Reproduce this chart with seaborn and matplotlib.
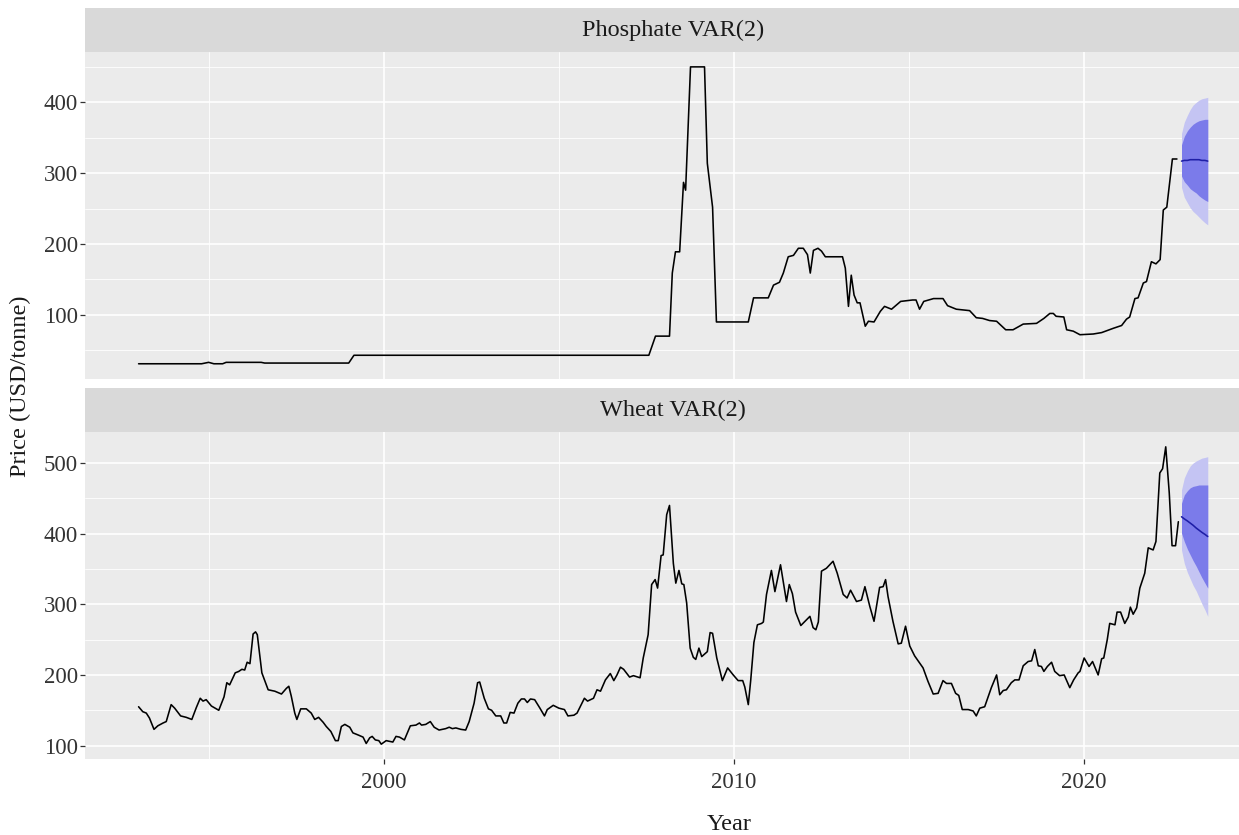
import numpy as np
import pandas as pd
import matplotlib
matplotlib.use("Agg")
import matplotlib.pyplot as plt
import seaborn as sns

# --- Werte (Jahr als Dezimalzahl, USD/tonne) ---

phos_year = [1993.0, 1994.8, 1995.0, 1995.15, 1995.4, 1995.5, 1996.5, 1996.6, 1999.0, 1999.15,
             2007.57, 2007.76, 2008.16, 2008.24, 2008.33, 2008.45, 2008.56, 2008.62, 2008.76, 2009.16,
             2009.24, 2009.39, 2009.5, 2010.41, 2010.56, 2010.98, 2011.13, 2011.3, 2011.41, 2011.55,
             2011.7, 2011.84, 2011.98, 2012.1, 2012.18, 2012.27, 2012.4, 2012.5, 2012.61, 2013.1,
             2013.18, 2013.27, 2013.35, 2013.43, 2013.52, 2013.6, 2013.75, 2013.84, 2014.0, 2014.18,
             2014.3, 2014.5, 2014.76, 2015.1, 2015.2, 2015.3, 2015.42, 2015.7, 2015.97, 2016.1,
             2016.35, 2016.73, 2016.92, 2017.1, 2017.3, 2017.5, 2017.76, 2017.97, 2018.26, 2018.64,
             2018.85, 2019.02, 2019.12, 2019.2, 2019.42, 2019.5, 2019.69, 2019.88, 2020.26, 2020.5,
             2020.83, 2021.07, 2021.21, 2021.3, 2021.45, 2021.54, 2021.69, 2021.78, 2021.92, 2022.05,
             2022.17, 2022.26, 2022.36, 2022.52, 2022.65]
phos_price = [31, 31, 33, 31, 31, 33, 33, 32, 32, 43,
              43, 70, 70, 159, 189, 189, 287, 276, 450, 450,
              314, 252, 90, 90, 124, 124, 142, 146, 159, 182,
              184, 194, 194, 185, 159, 191, 194, 190, 182, 182,
              166, 112, 156, 128, 117, 117, 84, 91, 90, 105,
              112, 108, 119, 121, 121, 108, 119, 123, 123, 113,
              108, 106, 96, 95, 92, 91, 79, 79, 87, 88,
              95, 102, 102, 98, 97, 79, 77, 72, 73, 75,
              81, 85, 94, 97, 123, 124, 145, 147, 175, 172,
              178, 248, 252, 320, 320]

wheat_year = [1993.0, 1993.12, 1993.22, 1993.31, 1993.44, 1993.55, 1993.7, 1993.79, 1993.93, 1994.03,
              1994.2, 1994.36, 1994.52, 1994.65, 1994.76, 1994.84, 1994.93, 1995.08, 1995.29, 1995.44,
              1995.52, 1995.6, 1995.76, 1995.86, 1995.95, 1996.03, 1996.1, 1996.18, 1996.27, 1996.34,
              1996.39, 1996.52, 1996.7, 1996.89, 1997.08, 1997.22, 1997.29, 1997.36, 1997.46, 1997.52,
              1997.63, 1997.79, 1997.93, 1998.03, 1998.14, 1998.27, 1998.36, 1998.49, 1998.62, 1998.7,
              1998.79, 1998.89, 1999.03, 1999.12, 1999.27, 1999.41, 1999.5, 1999.6, 1999.67, 1999.76,
              1999.86, 1999.93, 2000.07, 2000.17, 2000.26, 2000.35, 2000.45, 2000.59, 2000.76, 2000.92,
              2001.02, 2001.08, 2001.2, 2001.33, 2001.44, 2001.58, 2001.77, 2001.87, 2001.96, 2002.06,
              2002.2, 2002.34, 2002.44, 2002.58, 2002.68, 2002.74, 2002.87, 2002.99, 2003.08, 2003.2,
              2003.34, 2003.43, 2003.51, 2003.61, 2003.72, 2003.83, 2003.93, 2004.02, 2004.1, 2004.19,
              2004.31, 2004.46, 2004.59, 2004.67, 2004.84, 2005.0, 2005.16, 2005.26, 2005.43, 2005.52,
              2005.73, 2005.82, 2005.99, 2006.09, 2006.19, 2006.33, 2006.47, 2006.57, 2006.66, 2006.76,
              2006.85, 2007.02, 2007.13, 2007.32, 2007.41, 2007.55, 2007.65, 2007.75, 2007.82, 2007.92,
              2007.98, 2008.08, 2008.16, 2008.22, 2008.27, 2008.34, 2008.43, 2008.51, 2008.57, 2008.65,
              2008.75, 2008.84, 2008.91, 2009.0, 2009.08, 2009.24, 2009.32, 2009.39, 2009.51, 2009.67,
              2009.82, 2009.98, 2010.12, 2010.25, 2010.31, 2010.41, 2010.48, 2010.57, 2010.67, 2010.79,
              2010.84, 2010.93, 2011.07, 2011.17, 2011.33, 2011.5, 2011.58, 2011.67, 2011.76, 2011.91,
              2012.17, 2012.26, 2012.34, 2012.41, 2012.5, 2012.64, 2012.83, 2012.95, 2013.12, 2013.23,
              2013.33, 2013.5, 2013.64, 2013.74, 2013.88, 2014.0, 2014.16, 2014.26, 2014.33, 2014.4,
              2014.54, 2014.69, 2014.78, 2014.9, 2015.02, 2015.16, 2015.4, 2015.54, 2015.69, 2015.83,
              2015.97, 2016.07, 2016.21, 2016.33, 2016.42, 2016.52, 2016.69, 2016.83, 2016.92, 2017.02,
              2017.16, 2017.35, 2017.5, 2017.59, 2017.69, 2017.78, 2017.92, 2018.02, 2018.14, 2018.26,
              2018.4, 2018.5, 2018.59, 2018.69, 2018.78, 2018.85, 2018.95, 2019.07, 2019.16, 2019.3,
              2019.43, 2019.59, 2019.7, 2019.83, 2019.88, 2020.0, 2020.14, 2020.24, 2020.4, 2020.5,
              2020.56, 2020.66, 2020.73, 2020.88, 2020.94, 2021.04, 2021.16, 2021.26, 2021.32, 2021.4,
              2021.5, 2021.59, 2021.73, 2021.83, 2021.97, 2022.05, 2022.16, 2022.24, 2022.33, 2022.43,
              2022.51, 2022.61, 2022.69]
wheat_price = [155, 148, 146, 139, 123, 128, 132, 134, 158, 153,
               142, 140, 137, 154, 167, 163, 165, 156, 150, 169,
               189, 186, 203, 205, 208, 207, 218, 216, 258, 261,
               257, 203, 179, 177, 173, 181, 184, 170, 146, 137,
               152, 152, 146, 137, 140, 133, 127, 120, 107, 107,
               127, 130, 126, 118, 115, 112, 103, 111, 113, 108,
               107, 102, 107, 106, 105, 113, 112, 108, 128, 129,
               132, 129, 130, 134, 126, 122, 124, 126, 124, 125,
               123, 122, 134, 160, 189, 190, 167, 152, 150, 142,
               142, 132, 132, 147, 146, 160, 166, 166, 161, 166,
               165, 153, 142, 151, 157, 153, 151, 142, 143, 146,
               167, 163, 167, 179, 177, 193, 202, 192, 200, 211,
               208, 197, 199, 196, 224, 257, 328, 335, 323, 369,
               370, 427, 440, 396, 358, 330, 348, 329, 328, 302,
               238, 225, 222, 238, 226, 233, 260, 259, 224, 192,
               210, 200, 192, 192, 183, 158, 193, 246, 271, 273,
               275, 314, 348, 318, 356, 304, 328, 315, 289, 270,
               283, 267, 264, 275, 347, 351, 361, 344, 314, 309,
               320, 304, 306, 325, 297, 276, 324, 325, 335, 311,
               276, 244, 245, 269, 241, 227, 210, 191, 173, 174,
               192, 188, 188, 174, 171, 151, 151, 149, 142, 153,
               155, 182, 200, 172, 178, 179, 189, 193, 193, 213,
               219, 220, 236, 213, 212, 205, 212, 218, 205, 199,
               200, 182, 193, 203, 205, 224, 212, 219, 200, 223,
               224, 250, 273, 271, 289, 289, 273, 282, 296, 286,
               295, 323, 344, 380, 377, 389, 486, 492, 523, 458,
               383, 383, 417]

# VAR(2)-Prognose, monatlich
fc_year = [2022.78, 2022.86, 2022.95, 2023.03, 2023.11, 2023.2, 2023.28, 2023.36, 2023.45, 2023.53]

phos_mean = [317, 318, 318, 319, 319, 319, 319, 318, 318, 317]
phos_lo80 = [296, 288, 283, 278, 275, 272, 268, 265, 262, 260]
phos_hi80 = [340, 352, 360, 365, 369, 372, 374, 375, 376, 376]
phos_lo95 = [280, 266, 258, 251, 246, 242, 238, 234, 230, 227]
phos_hi95 = [356, 372, 382, 390, 396, 400, 403, 405, 406, 407]

wheat_mean = [424, 421, 418, 415, 412, 408, 405, 402, 399, 396]
wheat_lo80 = [401, 389, 378, 370, 362, 354, 346, 338, 330, 323]
wheat_hi80 = [443, 455, 461, 465, 467, 468, 469, 469, 469, 469]
wheat_lo95 = [377, 358, 345, 336, 327, 319, 310, 301, 292, 283]
wheat_hi95 = [462, 479, 489, 496, 500, 503, 505, 507, 508, 509]

# --- Stil im ggplot-Look ---
sns.set_theme(style="darkgrid", rc={"axes.facecolor": "#EBEBEB", "grid.color": "white"})
plt.rcParams["font.family"] = ["Liberation Serif", "DejaVu Serif"]

BG_STRIP = "#D9D9D9"
LIGHT = "#C4C4F3"
DARK = "#7B7BEA"
NAVY = "#1E1EA6"
TXT = "#333333"

W, H = 1239, 835
fig = plt.figure(figsize=(W / 100, H / 100), dpi=100)


def px_box(x0, y0, x1, y1):
    # Pixelkoordinaten (oben links) -> Figure-Anteile
    return [x0 / W, 1 - y1 / H, (x1 - x0) / W, (y1 - y0) / H]


def draw_panel(panel_box, strip_box, title, years, prices, fc, ylim, yticks, yminor, show_x):
    ax = fig.add_axes(px_box(*panel_box))
    df = pd.DataFrame({"Year": years, "Price": prices})
    sns.lineplot(data=df, x="Year", y="Price", ax=ax, color="black", linewidth=1.15,
                 estimator=None, sort=False, zorder=3)

    mean, lo80, hi80, lo95, hi95 = fc
    ax.fill_between(fc_year, lo95, hi95, color=LIGHT, linewidth=0, zorder=2)
    ax.fill_between(fc_year, lo80, hi80, color=DARK, linewidth=0, zorder=2)
    sns.lineplot(x=fc_year, y=mean, ax=ax, color=NAVY, linewidth=1.15, zorder=4)

    ax.set_xlim(1991.47, 2025.05)
    ax.set_ylim(*ylim)
    ax.set_xticks([2000, 2010, 2020])
    ax.set_xticks([1995, 2005, 2015, 2025], minor=True)
    ax.set_yticks(yticks)
    ax.set_yticks(yminor, minor=True)
    ax.grid(which="major", color="white", linewidth=1.2)
    ax.grid(which="minor", color="white", linewidth=0.6)
    ax.set_axisbelow(True)
    for s in ax.spines.values():
        s.set_visible(False)

    ax.tick_params(axis="y", which="major", length=3.5, width=0.9, color=TXT,
                   labelsize=16.5, labelcolor=TXT, pad=1.5, left=True)
    ax.tick_params(axis="x", which="major", length=3.5 if show_x else 0, width=0.9, color=TXT,
                   labelsize=16.5, labelcolor=TXT, pad=6, bottom=show_x, labelbottom=show_x)
    ax.tick_params(which="minor", length=0)
    ax.set_xlabel("")
    ax.set_ylabel("")

    sax = fig.add_axes(px_box(*strip_box))
    sax.set_facecolor(BG_STRIP)
    sax.set_xticks([])
    sax.set_yticks([])
    sax.grid(False)
    for s in sax.spines.values():
        s.set_visible(False)
    sax.text(0.5, 0.5, title, ha="center", va="center", fontsize=17.5, color="#1A1A1A",
             transform=sax.transAxes)
    return ax


draw_panel((85, 52, 1261, 379), (85, 8, 1261, 52), "Phosphate VAR(2)",
           phos_year, phos_price,
           (phos_mean, phos_lo80, phos_hi80, phos_lo95, phos_hi95),
           (9.5, 471), [100, 200, 300, 400], [50, 150, 250, 350, 450], show_x=False)

draw_panel((85, 432, 1261, 759), (85, 388, 1261, 432), "Wheat VAR(2)",
           wheat_year, wheat_price,
           (wheat_mean, wheat_lo80, wheat_hi80, wheat_lo95, wheat_hi95),
           (81, 544), [100, 200, 300, 400, 500], [150, 250, 350, 450], show_x=True)

fig.text(20 / W, 1 - 386 / H, "Price (USD/tonne)", rotation=90, ha="center", va="center",
         fontsize=17.5, color="#1A1A1A")
fig.text(729 / W, 1 - 824 / H, "Year", ha="center", va="center", fontsize=17.5, color="#1A1A1A")

fig.savefig("out.png", dpi=100)
